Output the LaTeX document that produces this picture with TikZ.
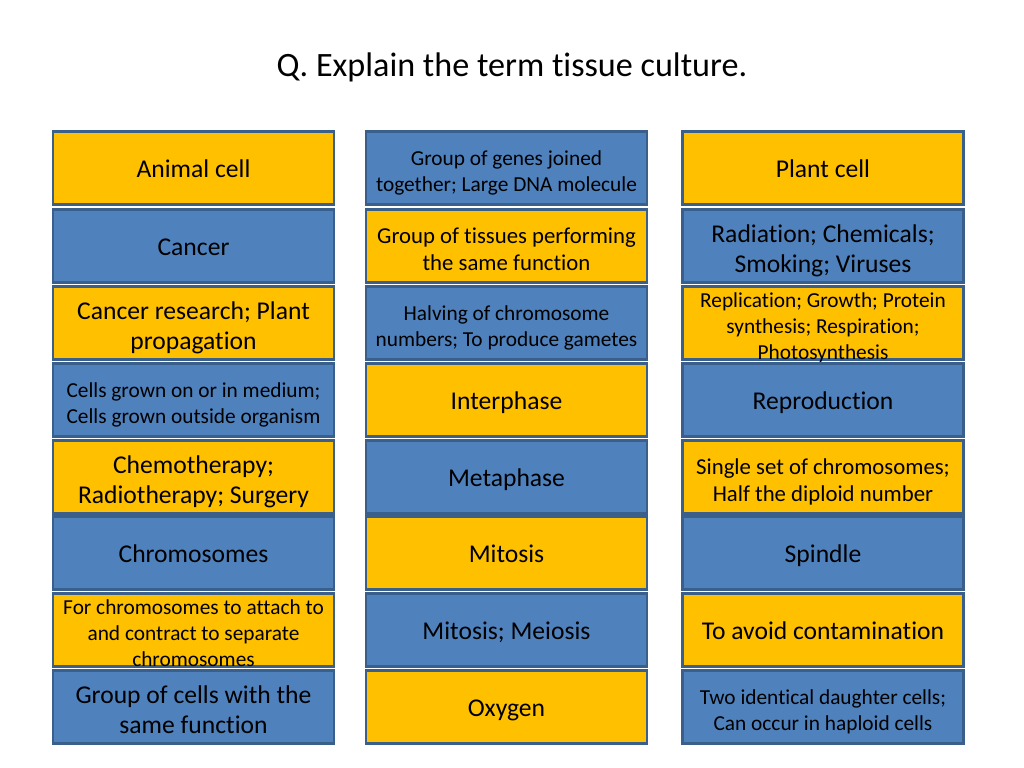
\documentclass[tikz,border=0pt]{standalone}
\usepackage{fontspec}
\setmainfont[Ligatures=NoCommon]{Carlito}
\usepackage{xcolor}
\usepackage{tikz}
\definecolor{boxyellow}{HTML}{FFC000}
\definecolor{boxblue}{HTML}{4F81BD}
\definecolor{boxline}{HTML}{3A5F8A}

\begin{document}
\begin{tikzpicture}[x=0.703125pt, y=-0.703125pt,
  cell/.style={draw=boxline, line width=1.5pt, minimum width=197.6pt, minimum height=51.3pt, inner sep=0pt,
    align=center, text depth=0pt},
  ybox/.style={cell, fill=boxyellow},
  bbox/.style={cell, fill=boxblue},
  big/.style={font=\fontsize{18}{21.6}\selectfont, text height=13.5pt},
  big2/.style={font=\fontsize{18}{21.6}\selectfont, text height=37.9pt},
  mid2/.style={font=\fontsize{16}{19}\selectfont, text height=34.3pt},
  small2/.style={font=\fontsize{15}{18}\selectfont, text height=32.9pt},
  small3/.style={font=\fontsize{15}{18}\selectfont, text height=50.9pt}]
\useasboundingbox (0,0) rectangle (1024,768);
\node (title) at (512,67) [font=\fontsize{24}{28}\selectfont] {Q. Explain the term tissue culture.};
% first column
\node (a1) at (193.5,168) [ybox, big] {Animal cell};
\node (a2) at (193.5,246) [bbox, big] {Cancer};
\node (a3) at (193.5,323) [ybox, big2] {Cancer research; Plant\\propagation};
\node (a4) at (193.5,400) [bbox, small2] {Cells grown on or in medium;\\Cells grown outside organism};
\node (a5) at (193.5,477) [ybox, big2] {Chemotherapy;\\Radiotherapy; Surgery};
\node (a6) at (193.5,553) [bbox, big] {Chromosomes};
\node (a7) at (193.5,630) [ybox, small3] {For chromosomes to attach to\\and contract to separate\\chromosomes};
\node (a8) at (193.5,707) [bbox, big2] {Group of cells with the\\same function};
% second column
\node (b1) at (506.5,168) [bbox, small2] {Group of genes joined\\together; Large DNA molecule};
\node (b2) at (506.5,246) [ybox, mid2] {Group of tissues performing\\the same function};
\node (b3) at (506.5,323) [bbox, small2] {Halving of chromosome\\numbers; To produce gametes};
\node (b4) at (506.5,400) [ybox, big] {Interphase};
\node (b5) at (506.5,477) [bbox, big] {Metaphase};
\node (b6) at (506.5,553) [ybox, big] {Mitosis};
\node (b7) at (506.5,630) [bbox, big] {Mitosis; Meiosis};
\node (b8) at (506.5,707) [ybox, big] {Oxygen};
% third column
\node (c1) at (823,168) [ybox, big] {Plant cell};
\node (c2) at (823,246) [bbox, big2] {Radiation; Chemicals;\\Smoking; Viruses};
\node (c3) at (823,323) [ybox, small3] {Replication; Growth; Protein\\synthesis; Respiration;\\Photosynthesis};
\node (c4) at (823,400) [bbox, big] {Reproduction};
\node (c5) at (823,477) [ybox, mid2] {Single set of chromosomes;\\Half the diploid number};
\node (c6) at (823,553) [bbox, big] {Spindle};
\node (c7) at (823,630) [ybox, big] {To avoid contamination};
\node (c8) at (823,707) [bbox, small2] {Two identical daughter cells;\\Can occur in haploid cells};
\end{tikzpicture}
\end{document}
